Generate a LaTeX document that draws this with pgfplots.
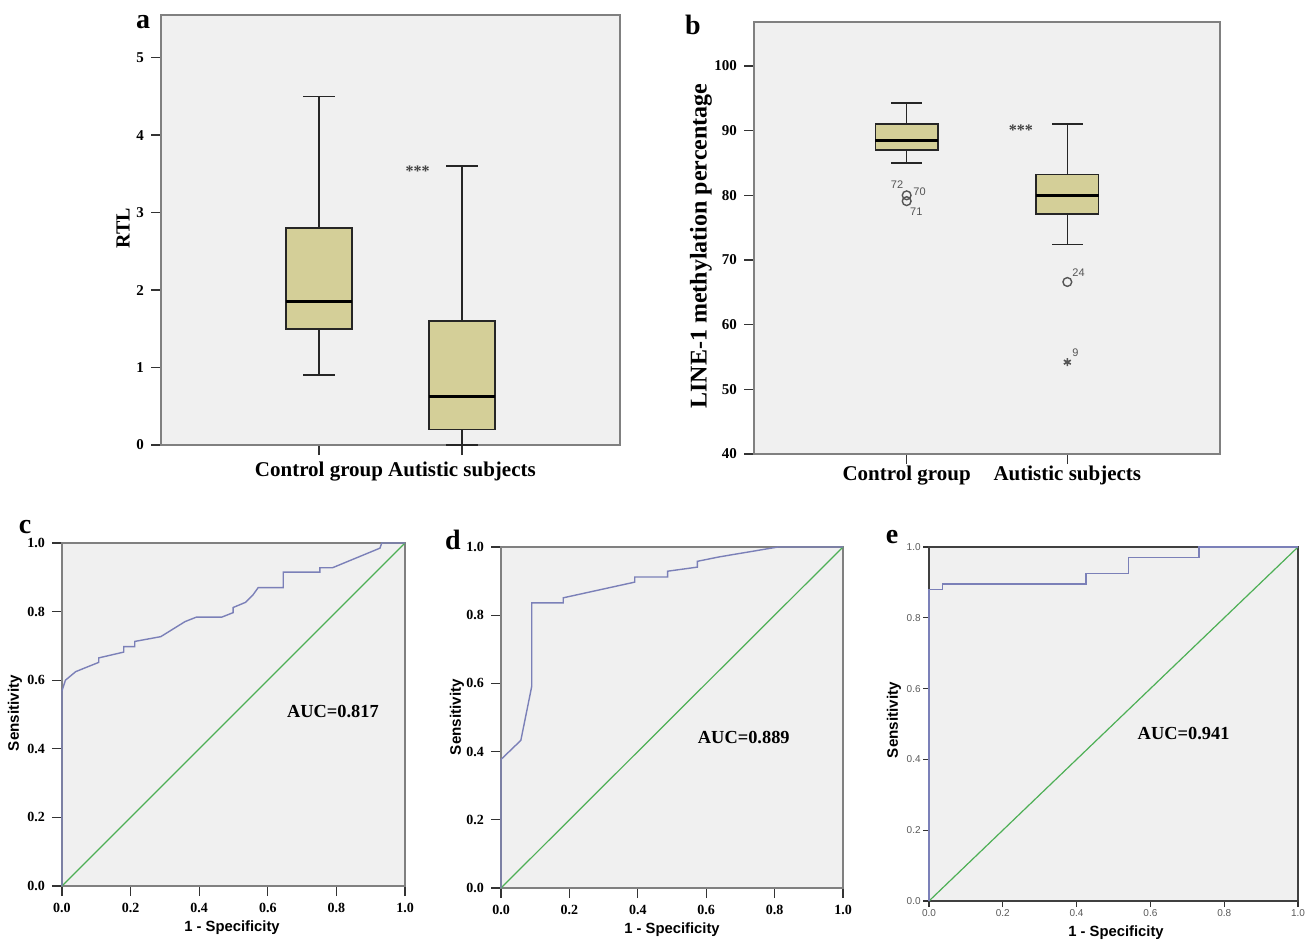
\documentclass[border=0pt]{standalone}
\usepackage{fontspec}
\setmainfont{Liberation Serif}
\setsansfont{Liberation Sans}
\usepackage{pgfplots}
\pgfplotsset{compat=1.18}
\usepgfplotslibrary{statistics}
\definecolor{bg}{HTML}{F0F0F0}
\definecolor{boxc}{HTML}{D4CF98}
\definecolor{roccol}{HTML}{7B80B8}
\definecolor{diagcol}{HTML}{4DAF55}
\definecolor{frame}{HTML}{808080}
\definecolor{outl}{HTML}{555555}
\pgfplotsset{
  base/.style={scale only axis, anchor=south west,
    axis background/.style={fill=bg},
    axis line style={frame, line width=0.7pt},
    tick align=outside, tick pos=left, major tick length=5pt,
    tick style={black!80, line width=0.6pt},
    boxplot/draw direction=y,
    /pgf/number format/assume math mode=true, clip=false},
  rocaxis/.style={base, xmin=0, xmax=1, ymin=0, ymax=1,
    xtick={0,0.2,0.4,0.6,0.8,1}, ytick={0,0.2,0.4,0.6,0.8,1},
    xticklabel={\pgfmathprintnumber[fixed,fixed zerofill,precision=1]{\tick}},
    yticklabel={\pgfmathprintnumber[fixed,fixed zerofill,precision=1]{\tick}},
    ticklabel style={font=\bfseries\fontsize{7}{8}\selectfont}},
  mybox/.style={draw=black!85, fill=boxc, line width=0.8pt,
    boxplot/every median/.style={line width=1.6pt, black}},
}
\newcommand{\fs}[1]{\fontsize{#1}{#1}\selectfont}
\begin{document}
\begin{tikzpicture}
% ---------------- panel a ----------------
\begin{axis}[base, at={(80.5pt,-222.5pt)}, width=229.5pt, height=215pt,
  xmin=-0.105, xmax=3.105, ymin=0, ymax=5.55,
  xtick={1,2}, xticklabels={Control group, Autistic subjects},
  ytick={0,1,2,3,4,5},
  x tick label style={font=\bfseries\fs{10.5}},
  y tick label style={font=\bfseries\fs{7.5}}]
\addplot[mybox, boxplot prepared={draw position=1, lower whisker=0.9, lower quartile=1.5,
  median=1.85, upper quartile=2.8, upper whisker=4.5, box extend=0.46, whisker extend=0.22}]
  coordinates {};
\addplot[mybox, boxplot prepared={draw position=2, lower whisker=0.0, lower quartile=0.2,
  median=0.63, upper quartile=1.6, upper whisker=3.6, box extend=0.46, whisker extend=0.22}]
  coordinates {};
\node[font=\bfseries\fs{8}, text=black!75] at (axis cs:1.69,3.53) {***};
\end{axis}
\node[font=\bfseries\fs{14}] at (71.5pt,-11pt) {a};
\node[font=\bfseries\fs{10}, rotate=90] at (61.5pt,-114pt) {RTL};
% ---------------- panel b ----------------
\begin{axis}[base, at={(377pt,-227pt)}, width=233pt, height=216pt,
  xmin=0.05, xmax=2.95, ymin=40, ymax=106.8,
  xtick={1,2}, xticklabels={Control group, Autistic subjects},
  ytick={40,50,60,70,80,90,100},
  x tick label style={font=\bfseries\fs{10.5}, yshift=2.5pt},
  y tick label style={font=\bfseries\fs{7.5}}]
\addplot[mybox, boxplot prepared={draw position=1, lower whisker=85, lower quartile=87,
  median=88.5, upper quartile=91, upper whisker=94.3, box extend=0.39, whisker extend=0.19}]
  coordinates {};
\addplot[mybox, boxplot prepared={draw position=2, lower whisker=72.4, lower quartile=77.1,
  median=80.0, upper quartile=83.2, upper whisker=91, box extend=0.39, whisker extend=0.19}]
  coordinates {};
\addplot[only marks, mark=o, mark size=2.2pt, mark options={outl, line width=0.7pt}]
  coordinates {(1,80.0) (1,79.1) (2,66.6)};
\addplot[only marks, mark=asterisk, mark size=2pt, mark options={outl, line width=0.8pt}]
  coordinates {(2,54.2)};
\begin{scope}[every node/.style={font=\sffamily\fs{5.5}, text=outl}]
\node at (axis cs:0.94,81.6) {72};
\node at (axis cs:1.08,80.6) {70};
\node at (axis cs:1.06,77.4) {71};
\node at (axis cs:2.07,68.1) {24};
\node at (axis cs:2.05,55.6) {9};
\end{scope}
\node[font=\bfseries\fs{8}, text=black!75] at (axis cs:1.71,90.1) {***};
\end{axis}
\node[font=\bfseries\fs{14}] at (346.5pt,-12.5pt) {b};
\node[font=\bfseries\fs{12}, rotate=90] at (350.5pt,-123pt) {LINE-1 methylation percentage};
% ---------------- panel c ----------------
\begin{axis}[rocaxis, at={(31pt,-443pt)}, width=171.5pt, height=171.5pt]
\addplot[diagcol, line width=0.6pt] coordinates {(0,0) (1,1)};
\addplot[roccol, line width=0.7pt] coordinates {
(0,0) (0,0.569) (0.01,0.60) (0.04,0.625) (0.107,0.652) (0.107,0.665) (0.18,0.682)
(0.18,0.698) (0.212,0.698) (0.212,0.713) (0.288,0.727) (0.359,0.771) (0.392,0.784)
(0.466,0.784) (0.499,0.797) (0.499,0.812) (0.535,0.827) (0.557,0.849) (0.572,0.870)
(0.645,0.870) (0.645,0.915) (0.752,0.915) (0.752,0.928) (0.789,0.928) (0.927,0.985)
(0.932,1.0) (1,1)};
\node[font=\bfseries\fs{9.2}] at (axis cs:0.79,0.51) {AUC=0.817};
\end{axis}
\node[font=\bfseries\fs{14}] at (12.5pt,-263.5pt) {c};
\node[font=\sffamily\bfseries\fs{7.6}, rotate=90] at (7.5pt,-356.5pt) {Sensitivity};
\node[font=\sffamily\bfseries\fs{7.4}] at (116pt,-464pt) {1 - Specificity};
% ---------------- panel d ----------------
\begin{axis}[rocaxis, at={(250.5pt,-444pt)}, width=171pt, height=170.5pt]
\addplot[diagcol, line width=0.6pt] coordinates {(0,0) (1,1)};
\addplot[roccol, line width=0.7pt] coordinates {
(0,0) (0,0.377) (0.058,0.433) (0.09,0.592) (0.09,0.836) (0.182,0.836) (0.182,0.851)
(0.391,0.897) (0.391,0.912) (0.487,0.912) (0.487,0.929) (0.574,0.941) (0.574,0.958)
(0.638,0.971) (0.81,1.0) (1,1)};
\node[font=\bfseries\fs{9.2}] at (axis cs:0.71,0.44) {AUC=0.889};
\end{axis}
\node[font=\bfseries\fs{14}] at (226.5pt,-270pt) {d};
\node[font=\sffamily\bfseries\fs{7.6}, rotate=90] at (228.5pt,-358.5pt) {Sensitivity};
\node[font=\sffamily\bfseries\fs{7.4}] at (336pt,-465pt) {1 - Specificity};
% ---------------- panel e ----------------
\begin{axis}[rocaxis, at={(464.5pt,-450.5pt)}, width=184.5pt, height=177pt,
  axis line style={black!75, line width=0.7pt},
  ticklabel style={font=\sffamily\fs{5}, text=black!65, inner sep=1pt},
  major tick length=3pt]
\addplot[diagcol, line width=0.6pt] coordinates {(0,0) (1,1)};
\addplot[roccol, line width=0.7pt] coordinates {
(0,0) (0,0.88) (0.037,0.88) (0.037,0.896) (0.425,0.896) (0.425,0.925) (0.54,0.925)
(0.54,0.971) (0.732,0.971) (0.732,1) (1,1)};
\node[font=\bfseries\fs{9.2}] at (axis cs:0.69,0.473) {AUC=0.941};
\end{axis}
\node[font=\bfseries\fs{14}] at (446pt,-268.5pt) {e};
\node[font=\sffamily\bfseries\fs{7.6}, rotate=90] at (447pt,-360pt) {Sensitivity};
\node[font=\sffamily\bfseries\fs{7.4}] at (558pt,-466.5pt) {1 - Specificity};
\pgfresetboundingbox
\useasboundingbox (0,0) rectangle (656.5pt,-471pt);
\end{tikzpicture}
\end{document}
